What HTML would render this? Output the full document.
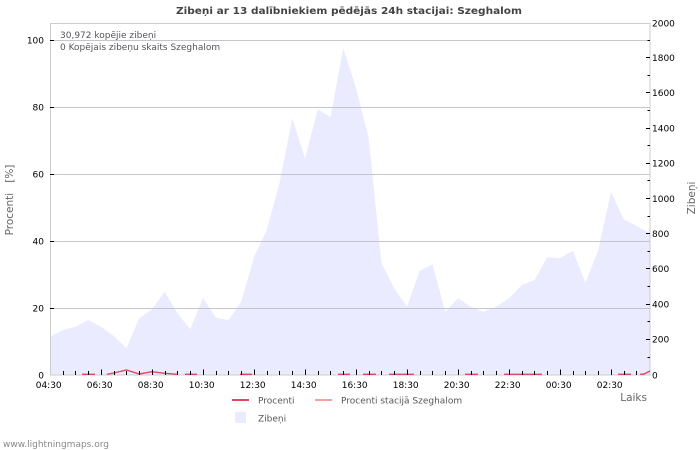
<!DOCTYPE html>
<html>
<head>
<meta charset="utf-8">
<style>
  html, body { margin: 0; padding: 0; background: #ffffff; }
  svg { display: block; }
  text { font-family: "DejaVu Sans", "Liberation Sans", sans-serif; }
</style>
</head>
<body>
<svg width="700" height="450" viewBox="0 0 700 450" xmlns="http://www.w3.org/2000/svg">
  <rect x="0" y="0" width="700" height="450" fill="#ffffff"/>

  <!-- Title -->
  <text x="349" y="14" text-anchor="middle" font-size="10" font-weight="bold" fill="#444" textLength="346" lengthAdjust="spacingAndGlyphs">Zibeņi ar 13 dalībniekiem pēdējās 24h stacijai: Szeghalom</text>

  <!-- Area (Zibeņi) -->
  <polygon fill="#ebebff" points="50,336.7 62.75,330 75.5,326.7 88.25,320 101,326.7 113.75,336 126.5,348.3 139.25,318.3 152,309.3 164.75,291.7 177.5,313.3 190.25,329.3 203,297.7 215.75,317.7 228.5,320 241.25,301.7 254,257 266.75,230 279.5,183.3 292.25,118.3 305,158.3 317.75,109.3 330.5,117.3 343.25,48.3 356,88.3 368.75,138.3 381.5,263.3 394.25,288.3 407,306.7 419.75,270.7 432.5,264.3 445.25,311.7 458,298.3 470.75,306.7 483.5,311.7 496.25,306.7 509,298.3 521.75,285 534.5,280 547.25,257.3 560,258.3 572.75,250.7 585.5,282.7 598.25,250 611,191.7 623.75,219.3 636.5,226 650,233 650,375 50,375"/>

  <!-- Gridlines -->
  <g stroke="#c4c4cc" stroke-width="1" shape-rendering="crispEdges">
    <line x1="50" y1="40.5" x2="650" y2="40.5"/>
    <line x1="50" y1="107.5" x2="650" y2="107.5"/>
    <line x1="50" y1="174.5" x2="650" y2="174.5"/>
    <line x1="50" y1="241.5" x2="650" y2="241.5"/>
    <line x1="50" y1="308.5" x2="650" y2="308.5"/>
  </g>

  <!-- Plot border -->
  <rect x="50.5" y="23.5" width="599.5" height="351.5" fill="none" stroke="#cccccc" stroke-width="1" shape-rendering="crispEdges"/>

  <!-- Red percent line segments -->
  <g fill="none" stroke="#dd4a62" stroke-width="1.4">
    <polyline points="82,374.3 95,374.3"/>
    <polyline points="107,374.3 113.75,373 126.5,370 139.25,374 152,371.7 164.75,373.3 177.5,374.3"/>
    <polyline points="185,374.3 197,374.3"/>
    <polyline points="240,374.3 252,374.3"/>
    <polyline points="338,374.3 350,374.3"/>
    <polyline points="363,374.3 376,374.3"/>
    <polyline points="389,374.3 414,374.3"/>
    <polyline points="465,374.3 478,374.3"/>
    <polyline points="504,374.3 542,374.3"/>
    <polyline points="618,374.3 631,374.3"/>
    <polyline points="640,374.3 644,374 650,371"/>
  </g>

  <!-- Bottom ticks -->
  <g stroke="#000" stroke-width="1" shape-rendering="crispEdges">
    <line x1="63.5" y1="371" x2="63.5" y2="375"/>
    <line x1="75.5" y1="371" x2="75.5" y2="375"/>
    <line x1="88.5" y1="371" x2="88.5" y2="375"/>
    <line x1="101.5" y1="369.5" x2="101.5" y2="375"/>
    <line x1="114.5" y1="371" x2="114.5" y2="375"/>
    <line x1="126.5" y1="371" x2="126.5" y2="375"/>
    <line x1="139.5" y1="371" x2="139.5" y2="375"/>
    <line x1="152.5" y1="369.5" x2="152.5" y2="375"/>
    <line x1="165.5" y1="371" x2="165.5" y2="375"/>
    <line x1="177.5" y1="371" x2="177.5" y2="375"/>
    <line x1="190.5" y1="371" x2="190.5" y2="375"/>
    <line x1="203.5" y1="369.5" x2="203.5" y2="375"/>
    <line x1="216.5" y1="371" x2="216.5" y2="375"/>
    <line x1="228.5" y1="371" x2="228.5" y2="375"/>
    <line x1="241.5" y1="371" x2="241.5" y2="375"/>
    <line x1="254.5" y1="369.5" x2="254.5" y2="375"/>
    <line x1="267.5" y1="371" x2="267.5" y2="375"/>
    <line x1="279.5" y1="371" x2="279.5" y2="375"/>
    <line x1="292.5" y1="371" x2="292.5" y2="375"/>
    <line x1="305.5" y1="369.5" x2="305.5" y2="375"/>
    <line x1="318.5" y1="371" x2="318.5" y2="375"/>
    <line x1="330.5" y1="371" x2="330.5" y2="375"/>
    <line x1="343.5" y1="371" x2="343.5" y2="375"/>
    <line x1="356.5" y1="369.5" x2="356.5" y2="375"/>
    <line x1="369.5" y1="371" x2="369.5" y2="375"/>
    <line x1="381.5" y1="371" x2="381.5" y2="375"/>
    <line x1="394.5" y1="371" x2="394.5" y2="375"/>
    <line x1="407.5" y1="369.5" x2="407.5" y2="375"/>
    <line x1="420.5" y1="371" x2="420.5" y2="375"/>
    <line x1="432.5" y1="371" x2="432.5" y2="375"/>
    <line x1="445.5" y1="371" x2="445.5" y2="375"/>
    <line x1="458.5" y1="369.5" x2="458.5" y2="375"/>
    <line x1="471.5" y1="371" x2="471.5" y2="375"/>
    <line x1="483.5" y1="371" x2="483.5" y2="375"/>
    <line x1="496.5" y1="371" x2="496.5" y2="375"/>
    <line x1="509.5" y1="369.5" x2="509.5" y2="375"/>
    <line x1="522.5" y1="371" x2="522.5" y2="375"/>
    <line x1="534.5" y1="371" x2="534.5" y2="375"/>
    <line x1="547.5" y1="371" x2="547.5" y2="375"/>
    <line x1="560.5" y1="369.5" x2="560.5" y2="375"/>
    <line x1="573.5" y1="371" x2="573.5" y2="375"/>
    <line x1="585.5" y1="371" x2="585.5" y2="375"/>
    <line x1="598.5" y1="371" x2="598.5" y2="375"/>
    <line x1="611.5" y1="369.5" x2="611.5" y2="375"/>
    <line x1="624.5" y1="371" x2="624.5" y2="375"/>
    <line x1="636.5" y1="371" x2="636.5" y2="375"/>
  </g>

  <!-- Left ticks -->
  <g stroke="#000" stroke-width="1" shape-rendering="crispEdges">
    <line x1="50" y1="40.5" x2="54" y2="40.5"/>
    <line x1="50" y1="107.5" x2="54" y2="107.5"/>
    <line x1="50" y1="174.5" x2="54" y2="174.5"/>
    <line x1="50" y1="241.5" x2="54" y2="241.5"/>
    <line x1="50" y1="308.5" x2="54" y2="308.5"/>
  </g>

  <!-- Right ticks -->
  <g stroke="#000" stroke-width="1" shape-rendering="crispEdges">
    <line x1="646" y1="339.5" x2="650" y2="339.5"/>
    <line x1="646" y1="304.5" x2="650" y2="304.5"/>
    <line x1="646" y1="268.5" x2="650" y2="268.5"/>
    <line x1="646" y1="233.5" x2="650" y2="233.5"/>
    <line x1="646" y1="198.5" x2="650" y2="198.5"/>
    <line x1="646" y1="163.5" x2="650" y2="163.5"/>
    <line x1="646" y1="128.5" x2="650" y2="128.5"/>
    <line x1="646" y1="92.5" x2="650" y2="92.5"/>
    <line x1="646" y1="57.5" x2="650" y2="57.5"/>
    <line x1="647.5" y1="357.5" x2="650" y2="357.5"/>
    <line x1="647.5" y1="321.5" x2="650" y2="321.5"/>
    <line x1="647.5" y1="286.5" x2="650" y2="286.5"/>
    <line x1="647.5" y1="251.5" x2="650" y2="251.5"/>
    <line x1="647.5" y1="216.5" x2="650" y2="216.5"/>
    <line x1="647.5" y1="180.5" x2="650" y2="180.5"/>
    <line x1="647.5" y1="145.5" x2="650" y2="145.5"/>
    <line x1="647.5" y1="110.5" x2="650" y2="110.5"/>
    <line x1="647.5" y1="75.5" x2="650" y2="75.5"/>
    <line x1="647.5" y1="40.5" x2="650" y2="40.5"/>
  </g>

  <!-- Left tick labels -->
  <g font-size="9" fill="#000" text-anchor="end">
    <text x="44" y="43.5">100</text>
    <text x="44" y="110.5">80</text>
    <text x="44" y="177.5">60</text>
    <text x="44" y="244.5">40</text>
    <text x="44" y="311.5">20</text>
    <text x="44" y="378.5">0</text>
  </g>

  <!-- Right tick labels -->
  <g font-size="9" fill="#000" text-anchor="start">
    <text x="652" y="26.5">2000</text>
    <text x="652" y="61">1800</text>
    <text x="652" y="96.2">1600</text>
    <text x="652" y="131.4">1400</text>
    <text x="652" y="166.6">1200</text>
    <text x="652" y="201.8">1000</text>
    <text x="652" y="237">800</text>
    <text x="652" y="272.2">600</text>
    <text x="652" y="307.4">400</text>
    <text x="652" y="342.6">200</text>
    <text x="652" y="378.5">0</text>
  </g>

  <!-- Bottom labels -->
  <g font-size="9" fill="#000" text-anchor="middle">
    <text x="48.7" y="388">04:30</text>
    <text x="99.7" y="388">06:30</text>
    <text x="150.7" y="388">08:30</text>
    <text x="201.7" y="388">10:30</text>
    <text x="252.7" y="388">12:30</text>
    <text x="303.7" y="388">14:30</text>
    <text x="354.7" y="388">16:30</text>
    <text x="405.7" y="388">18:30</text>
    <text x="456.7" y="388">20:30</text>
    <text x="507.7" y="388">22:30</text>
    <text x="558.7" y="388">00:30</text>
    <text x="609.7" y="388">02:30</text>
  </g>

  <!-- Annotations -->
  <text x="60" y="38" font-size="9" fill="#555">30,972 kopējie zibeņi</text>
  <text x="60" y="50" font-size="9" fill="#555">0 Kopējais zibeņu skaits Szeghalom</text>

  <!-- Axis titles -->
  <text transform="translate(13,200) rotate(-90)" text-anchor="middle" font-size="10.5" fill="#666" xml:space="preserve">Procenti   [%]</text>
  <text transform="translate(695,198) rotate(-90)" text-anchor="middle" font-size="10.5" fill="#666">Zibeņi</text>
  <text x="647" y="401" text-anchor="end" font-size="10.5" fill="#666">Laiks</text>

  <!-- Legend -->
  <line x1="232" y1="400" x2="249" y2="400" stroke="#dd4a62" stroke-width="2"/>
  <text x="258" y="403.5" font-size="9" fill="#555">Procenti</text>
  <line x1="315" y1="400" x2="332" y2="400" stroke="#f4a0a0" stroke-width="2"/>
  <text x="341" y="403.5" font-size="9" fill="#555">Procenti stacijā Szeghalom</text>
  <rect x="235" y="412" width="11" height="11" fill="#ebebff"/>
  <text x="258" y="421.5" font-size="9" fill="#555">Zibeņi</text>

  <!-- Footer -->
  <text x="3" y="447" font-size="9" fill="#888">www.lightningmaps.org</text>
</svg>
</body>
</html>
